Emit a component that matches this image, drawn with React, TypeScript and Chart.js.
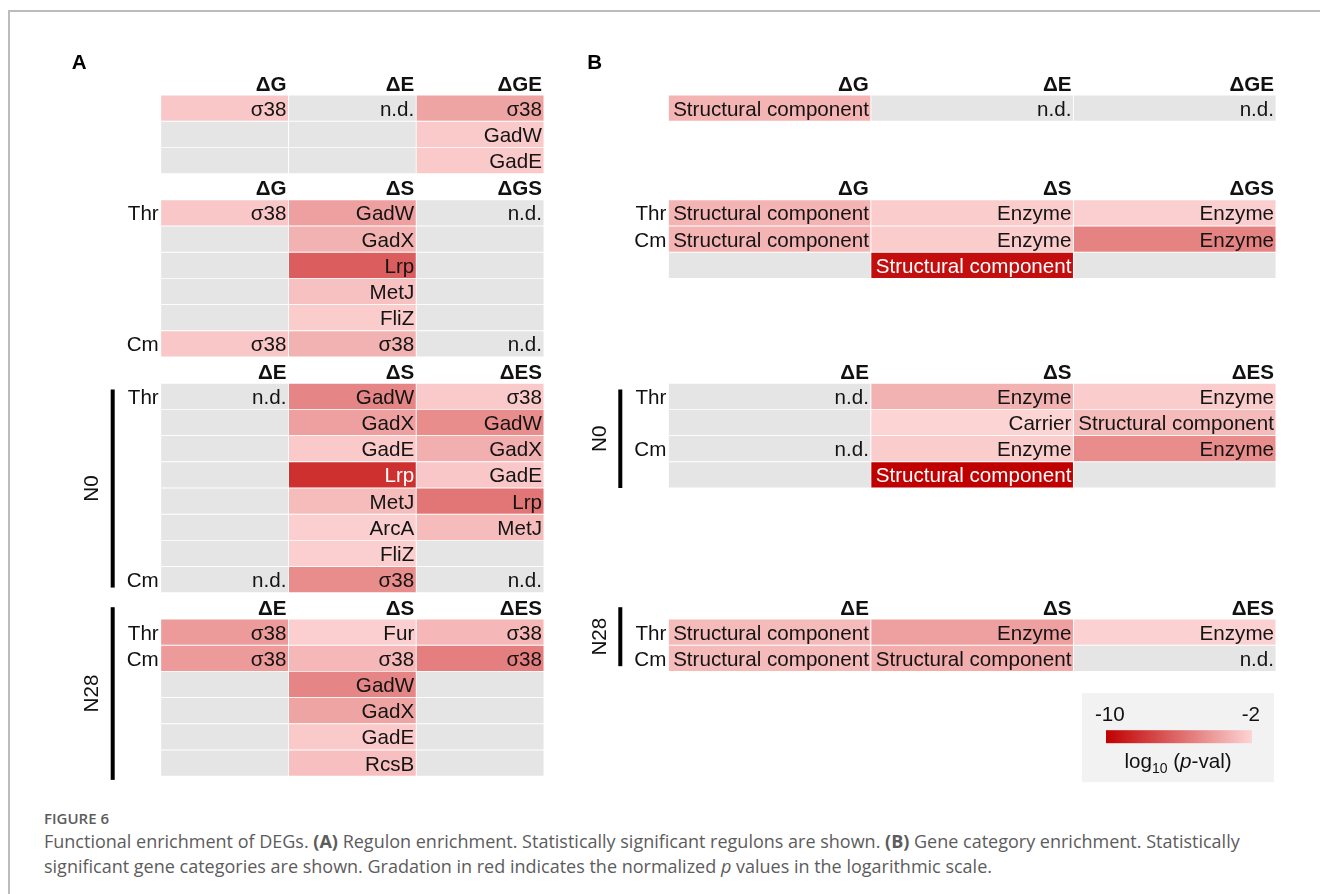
import { useEffect, useRef } from "react";
import { Chart, registerables } from "chart.js";

Chart.register(...registerables);

const FONT = '"Liberation Sans", Arial, Helvetica, sans-serif';
const TEXT_PX = 20.6;

// Rows available under each header row; both panels share this grid.
const SECTION_ROWS = [3, 6, 8, 6];

// Column headers of each comparison block.
const BLOCK_HEADERS = [
  ["ΔG", "ΔE", "ΔGE"],
  ["ΔG", "ΔS", "ΔGS"],
  ["ΔE", "ΔS", "ΔES"],
  ["ΔE", "ΔS", "ΔES"],
];

// Nitrogen conditions bracketing the last two blocks.
const CONDITIONS = ["N0", "N28"];
const CONDITION_BLOCKS = [2, 3];

// ---- Panel A: regulon enrichment ----
const REGULON_STRAINS = [
  ["", "", ""],
  ["Thr", "", "", "", "", "Cm"],
  ["Thr", "", "", "", "", "", "", "Cm"],
  ["Thr", "Cm", "", "", "", ""],
];

const REGULON_TERMS: (string | null)[][][] = [
  [["σ38", "n.d.", "σ38"], [null, null, "GadW"], [null, null, "GadE"]],
  [
    ["σ38", "GadW", "n.d."],
    [null, "GadX", null],
    [null, "Lrp", null],
    [null, "MetJ", null],
    [null, "FliZ", null],
    ["σ38", "σ38", "n.d."],
  ],
  [
    ["n.d.", "GadW", "σ38"],
    [null, "GadX", "GadW"],
    [null, "GadE", "GadX"],
    [null, "Lrp", "GadE"],
    [null, "MetJ", "Lrp"],
    [null, "ArcA", "MetJ"],
    [null, "FliZ", null],
    ["n.d.", "σ38", "n.d."],
  ],
  [
    ["σ38", "Fur", "σ38"],
    ["σ38", "σ38", "σ38"],
    [null, "GadW", null],
    [null, "GadX", null],
    [null, "GadE", null],
    [null, "RcsB", null],
  ],
];

// log10(p) of each regulon cell (null: not significant).
const REGULON_LOGP: (number | null)[][][] = [
  [[-2.5, null, -3.8], [null, null, -2.4], [null, null, -2.4]],
  [
    [-2.5, -4.0, null],
    [null, -3.3, null],
    [null, -6.5, null],
    [null, -2.7, null],
    [null, -2.3, null],
    [-2.5, -3.3, null],
  ],
  [
    [null, -5.0, -2.4],
    [null, -4.0, -4.7],
    [null, -2.4, -3.4],
    [null, -8.2, -2.5],
    [null, -2.9, -5.6],
    [null, -2.2, -2.9],
    [null, -2.2, null],
    [null, -4.7, null],
  ],
  [
    [-4.2, -2.2, -3.1],
    [-4.2, -3.1, -5.2],
    [null, -5.0, null],
    [null, -3.8, null],
    [null, -2.4, null],
    [null, -2.8, null],
  ],
];

// ---- Panel B: gene category enrichment ----
const CATEGORY_STRAINS = [[""], ["Thr", "Cm", ""], ["Thr", "", "Cm", ""], ["Thr", "Cm"]];

const CATEGORY_TERMS: (string | null)[][][] = [
  [["Structural component", "n.d.", "n.d."]],
  [
    ["Structural component", "Enzyme", "Enzyme"],
    ["Structural component", "Enzyme", "Enzyme"],
    [null, "Structural component", null],
  ],
  [
    ["n.d.", "Enzyme", "Enzyme"],
    [null, "Carrier", "Structural component"],
    ["n.d.", "Enzyme", "Enzyme"],
    [null, "Structural component", null],
  ],
  [
    ["Structural component", "Enzyme", "Enzyme"],
    ["Structural component", "Structural component", "n.d."],
  ],
];

const CATEGORY_LOGP: (number | null)[][][] = [
  [[-3.2, null, null]],
  [[-3.2, -2.3, -2.2], [-3.2, -2.3, -5.1], [null, -9.5, null]],
  [[null, -3.3, -2.3], [null, -2.0, -3.0], [null, -2.3, -4.7], [null, -10, null]],
  [[-3.0, -4.0, -2.1], [-3.0, -3.5, null]],
];

// Colour scale: log10(p) from -10 (dark red) to -2 (light pink).
const LOGP_MIN = -10;
const LOGP_MAX = -2;
const SCALE_TICKS = ["-10", "-2"];
const DARK = [192, 0, 0];
const LIGHT = [253, 212, 212];
const EMPTY_COLOR = "#e5e5e5";

function shade(v: number | null): string {
  if (v === null) return EMPTY_COLOR;
  const t = Math.max(0, Math.min(1, (v - LOGP_MIN) / (LOGP_MAX - LOGP_MIN)));
  const c = DARK.map((d, i) => Math.round(d + (LIGHT[i] - d) * t));
  return `rgb(${c[0]},${c[1]},${c[2]})`;
}

const TOTAL_ROWS = SECTION_ROWS.reduce((a, b) => a + b + 1, 0);

type Cell = { col: number; row: number; term: string | null; logp: number | null };

function buildCells(terms: (string | null)[][][], logp: (number | null)[][][]): Cell[] {
  const cells: Cell[] = [];
  let header = 0;
  SECTION_ROWS.forEach((slots, s) => {
    terms[s].forEach((line, r) => {
      line.forEach((term, c) => {
        cells.push({ col: c, row: header + 1 + r, term, logp: logp[s][r][c] });
      });
    });
    header += slots + 1;
  });
  return cells;
}

type PanelSpec = {
  letter: string;
  letterDx: number;
  strains: string[][];
  terms: (string | null)[][][];
  logp: (number | null)[][][];
  padding: { left: number; right: number; top: number; bottom: number };
  height: number;
  barEnds: [number, number][];
  legend: boolean;
};

function sectionStart(s: number): number {
  let header = 0;
  for (let i = 0; i < s; i++) header += SECTION_ROWS[i] + 1;
  return header;
}

function makeChart(canvas: HTMLCanvasElement, spec: PanelSpec): Chart {
  const cells = buildCells(spec.terms, spec.logp);
  const rowPx = (spec.height - spec.padding.top - spec.padding.bottom) / TOTAL_ROWS;

  const annotate = {
    id: "heatmapText",
    afterDatasetsDraw(chart: any) {
      const ctx: CanvasRenderingContext2D = chart.ctx;
      const xs = chart.scales.x;
      const ys = chart.scales.y;
      const area = chart.chartArea;
      const meta = chart.getDatasetMeta(0);
      ctx.save();
      ctx.textBaseline = "alphabetic";

      // Cell labels, right aligned inside each bar
      ctx.font = `${TEXT_PX}px ${FONT}`;
      ctx.textAlign = "right";
      meta.data.forEach((el: any, i: number) => {
        const cell = cells[i];
        if (!cell.term) return;
        const p = el.getProps(["x", "base", "y"], true);
        const right = Math.max(p.x, p.base) - 2;
        ctx.fillStyle = cell.logp !== null && cell.logp <= -8 ? "#ffffff" : "#141414";
        ctx.fillText(cell.term, right, p.y + 7.4);
      });

      // Block headers and strain labels
      SECTION_ROWS.forEach((slots, s) => {
        const header = sectionStart(s);
        const baseY = ys.getPixelForValue(header + 1) - 4.5;
        ctx.font = `bold ${TEXT_PX}px ${FONT}`;
        ctx.fillStyle = "#111";
        ctx.textAlign = "right";
        BLOCK_HEADERS[s].forEach((h, c) => ctx.fillText(h, xs.getPixelForValue(c + 1) - 2, baseY));
        ctx.font = `${TEXT_PX}px ${FONT}`;
        spec.strains[s].forEach((name, r) => {
          if (!name) return;
          ctx.fillText(name, area.left - 2, ys.getPixelForValue(header + 1 + r + 0.5) + 7.4);
        });
      });

      // Condition brackets
      CONDITIONS.forEach((label, g) => {
        const s = CONDITION_BLOCKS[g];
        const [a, b] = spec.barEnds[g];
        const y0 = ys.getPixelForValue(sectionStart(s) + a);
        const y1 = ys.getPixelForValue(sectionStart(s) + b);
        ctx.fillStyle = "#000";
        ctx.fillRect(area.left - 50, y0, 4, y1 - y0);
        ctx.save();
        ctx.translate(area.left - 68, (y0 + y1) / 2);
        ctx.rotate(-Math.PI / 2);
        ctx.font = `${TEXT_PX}px ${FONT}`;
        ctx.textAlign = "center";
        ctx.textBaseline = "middle";
        ctx.fillStyle = "#111";
        ctx.fillText(label, 0, 0);
        ctx.restore();
      });

      // Panel letter
      ctx.font = `bold ${TEXT_PX}px ${FONT}`;
      ctx.textAlign = "left";
      ctx.fillStyle = "#000";
      ctx.fillText(spec.letter, area.left + spec.letterDx, 69);

      // Colour key
      if (spec.legend) {
        const r = area.right;
        const b = area.bottom;
        ctx.fillStyle = "#f2f2f2";
        ctx.fillRect(r - 194, b - 83, 192, 89);
        const grad = ctx.createLinearGradient(r - 170, 0, r - 24, 0);
        grad.addColorStop(0, shade(LOGP_MIN));
        grad.addColorStop(1, shade(LOGP_MAX));
        ctx.fillStyle = grad;
        ctx.fillRect(r - 170, b - 46, 146, 13);
        ctx.fillStyle = "#111";
        ctx.font = `${TEXT_PX}px ${FONT}`;
        ctx.textAlign = "left";
        ctx.fillText(SCALE_TICKS[0], r - 181, b - 55);
        ctx.textAlign = "right";
        ctx.fillText(SCALE_TICKS[1], r - 16, b - 55);
        // log10 (p-val)
        const parts: [string, string, number][] = [
          ["log", `${TEXT_PX}px ${FONT}`, 0],
          ["10", `14px ${FONT}`, 5],
          [" (", `${TEXT_PX}px ${FONT}`, 0],
          ["p", `italic ${TEXT_PX}px ${FONT}`, 0],
          ["-val)", `${TEXT_PX}px ${FONT}`, 0],
        ];
        let total = 0;
        parts.forEach(([t, f]) => {
          ctx.font = f;
          total += ctx.measureText(t).width;
        });
        let x = r - 98 - total / 2;
        ctx.textAlign = "left";
        parts.forEach(([t, f, dy]) => {
          ctx.font = f;
          ctx.fillText(t, x, b - 8 + dy);
          x += ctx.measureText(t).width;
        });
      }
      ctx.restore();
    },
  };

  return new Chart(canvas, {
    type: "bar",
    data: {
      datasets: [
        {
          data: cells.map((c) => ({ x: [c.col, c.col + 1], y: c.row + 0.5 })) as any,
          backgroundColor: cells.map((c) => shade(c.logp)),
          borderColor: "#ffffff",
          borderWidth: 0.8,
          borderSkipped: false,
          barThickness: rowPx,
        },
      ],
    },
    options: {
      indexAxis: "y",
      responsive: false,
      maintainAspectRatio: false,
      animation: false,
      devicePixelRatio: 1,
      events: [],
      layout: { padding: spec.padding },
      plugins: { legend: { display: false }, tooltip: { enabled: false } },
      scales: {
        x: { type: "linear", min: 0, max: 3, display: false, offset: false },
        y: { type: "linear", min: 0, max: TOTAL_ROWS, reverse: true, display: false, offset: false },
      },
    },
    plugins: [annotate],
  });
}

const PANEL_A: PanelSpec = {
  letter: "A",
  letterDx: -89,
  strains: REGULON_STRAINS,
  terms: REGULON_TERMS,
  logp: REGULON_LOGP,
  padding: { left: 160.7, right: 16, top: 68.8, bottom: 23.8 },
  height: 800,
  barEnds: [
    [1.24, 8.8],
    [0.55, 7.14],
  ],
  legend: false,
};

const PANEL_B: PanelSpec = {
  letter: "B",
  letterDx: -81,
  strains: CATEGORY_STRAINS,
  terms: CATEGORY_TERMS,
  logp: CATEGORY_LOGP,
  padding: { left: 108.3, right: 44, top: 68.8, bottom: 23.8 },
  height: 800,
  barEnds: [
    [1.24, 5.0],
    [0.55, 2.8],
  ],
  legend: true,
};

export default function App() {
  const refA = useRef<HTMLCanvasElement>(null);
  const refB = useRef<HTMLCanvasElement>(null);

  useEffect(() => {
    const charts = [makeChart(refA.current!, PANEL_A), makeChart(refB.current!, PANEL_B)];
    return () => charts.forEach((c) => c.destroy());
  }, []);

  const caption = { fontFamily: '"Open Sans", sans-serif', color: "#5c5c5c" };

  return (
    <div
      style={{
        position: "fixed",
        left: 0,
        top: 0,
        width: 1320,
        height: 894,
        background: "#ffffff",
        overflow: "hidden",
      }}
    >
      <div
        style={{
          position: "absolute",
          left: 8,
          top: 10,
          width: 1330,
          height: 900,
          borderTop: "2px solid #bcbcbc",
          borderLeft: "2px solid #bcbcbc",
        }}
      />
      <canvas ref={refA} width={560} height={800} style={{ position: "absolute", left: 0, top: 0, width: 560, height: 800 }} />
      <canvas ref={refB} width={760} height={800} style={{ position: "absolute", left: 560, top: 0, width: 760, height: 800 }} />
      <div style={{ position: "absolute", left: 44, top: 807, whiteSpace: "nowrap", ...caption }}>
        <div style={{ fontSize: 15, fontWeight: 600, lineHeight: "22px" }}>FIGURE 6</div>
        <div style={{ fontSize: 18, lineHeight: "25px" }}>
          Functional enrichment of DEGs. <b>(A)</b> Regulon enrichment. Statistically significant regulons are shown.{" "}
          <b>(B)</b> Gene category enrichment. Statistically
          <br />
          significant gene categories are shown. Gradation in red indicates the normalized <i>p</i> values in the
          logarithmic scale.
        </div>
      </div>
    </div>
  );
}
